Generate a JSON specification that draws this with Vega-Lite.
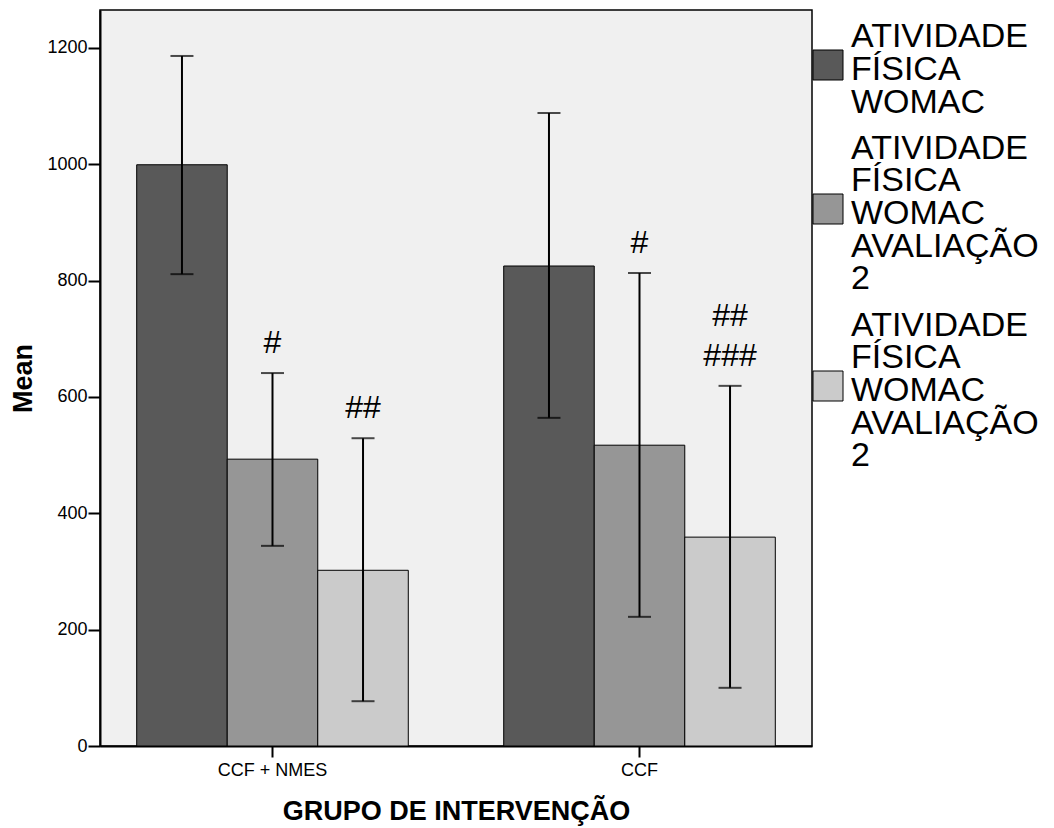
{
  "$schema": "https://vega.github.io/schema/vega-lite/v6.json",
  "autosize": "none",
  "padding": {"left": 100, "top": 10, "right": 242, "bottom": 82},
  "width": 712,
  "height": 736,
  "background": "white",
  "config": {
    "font": "Liberation Sans",
    "view": {"fill": "#f0f0f0", "stroke": "black", "strokeWidth": 1.5},
    "axis": {"domainColor": "black", "domainWidth": 2, "tickColor": "black", "tickWidth": 2, "labelColor": "black", "titleColor": "black", "grid": false, "labelFont": "Liberation Sans", "titleFont": "Liberation Sans"}
  },
  "data": {
    "values": [
      {"group": "CCF + NMES", "series": "A", "mean": 999, "lo": 811, "hi": 1186, "note": "", "note_top": ""},
      {"group": "CCF + NMES", "series": "B", "mean": 493, "lo": 344, "hi": 641, "note": "#", "note_top": ""},
      {"group": "CCF + NMES", "series": "C", "mean": 302, "lo": 77, "hi": 529, "note": "##", "note_top": ""},
      {"group": "CCF", "series": "A", "mean": 825, "lo": 564, "hi": 1088, "note": "", "note_top": ""},
      {"group": "CCF", "series": "B", "mean": 517, "lo": 222, "hi": 813, "note": "#", "note_top": ""},
      {"group": "CCF", "series": "C", "mean": 359, "lo": 100, "hi": 619, "note": "###", "note_top": "##"}
    ]
  },
  "encoding": {
    "x": {
      "field": "group", "type": "nominal", "sort": ["CCF + NMES", "CCF"],
      "scale": {"paddingInner": 0.26, "paddingOuter": 0.1},
      "axis": {"title": "GRUPO DE INTERVENÇÃO", "titleFontSize": 27, "titleFontWeight": "bold", "titlePadding": 19, "labelAngle": 0, "labelFontSize": 18, "labelPadding": 4, "tickSize": 11}
    },
    "xOffset": {"field": "series", "type": "nominal", "sort": ["A", "B", "C"]}
  },
  "layer": [
    {
      "mark": {"type": "bar", "stroke": "black", "strokeWidth": 1},
      "encoding": {
        "y": {
          "field": "mean", "type": "quantitative",
          "scale": {"domain": [0, 1265], "nice": false, "zero": true},
          "axis": {"title": "Mean", "titleFontSize": 27, "titleFontWeight": "bold", "titlePadding": 9, "values": [0, 200, 400, 600, 800, 1000, 1200], "format": "d", "labelFontSize": 18, "labelPadding": 1, "tickSize": 12}
        },
        "color": {
          "field": "series", "type": "nominal",
          "scale": {"domain": ["A", "B", "C"], "range": ["#595959", "#969696", "#cbcbcb"]},
          "legend": {
            "title": null,
            "orient": "right",
            "offset": -39,
            "padding": 38,
            "symbolType": "square",
            "symbolSize": 900,
            "symbolStrokeColor": "black",
            "symbolStrokeWidth": 1,
            "symbolOpacity": 1,
            "labelFontSize": 34,
            "labelColor": "black",
            "labelFont": "Liberation Sans",
            "labelLimit": 300,
            "labelOffset": 6,
            "rowPadding": 11,
            "labelExpr": "datum.value == 'A' ? ['ATIVIDADE', 'FÍSICA', 'WOMAC'] : ['ATIVIDADE', 'FÍSICA', 'WOMAC', 'AVALIAÇÃO', '2']",
            "encode": {
              "labels": {
                "update": {
                  "lineHeight": {"value": 32.7},
                  "dy": {"signal": "datum.value == 'A' ? -27.7 : -60.4"}
                }
              }
            }
          }
        }
      }
    },
    {
      "mark": {"type": "rule", "color": "black", "strokeWidth": 2},
      "encoding": {
        "y": {"field": "lo", "type": "quantitative"},
        "y2": {"field": "hi"}
      }
    },
    {
      "mark": {"type": "tick", "color": "black", "thickness": 2, "size": 23, "orient": "horizontal"},
      "encoding": {"y": {"field": "lo", "type": "quantitative"}}
    },
    {
      "mark": {"type": "tick", "color": "black", "thickness": 2, "size": 23, "orient": "horizontal"},
      "encoding": {"y": {"field": "hi", "type": "quantitative"}}
    },
    {
      "transform": [{"filter": "datum.note != ''"}],
      "mark": {"type": "text", "fontSize": 32, "font": "Liberation Sans", "color": "black", "baseline": "bottom", "dy": -13},
      "encoding": {
        "y": {"field": "hi", "type": "quantitative"},
        "text": {"field": "note"}
      }
    },
    {
      "transform": [{"filter": "datum.note_top != ''"}],
      "mark": {"type": "text", "fontSize": 32, "font": "Liberation Sans", "color": "black", "baseline": "bottom", "dy": -53},
      "encoding": {
        "y": {"field": "hi", "type": "quantitative"},
        "text": {"field": "note_top"}
      }
    }
  ]
}
